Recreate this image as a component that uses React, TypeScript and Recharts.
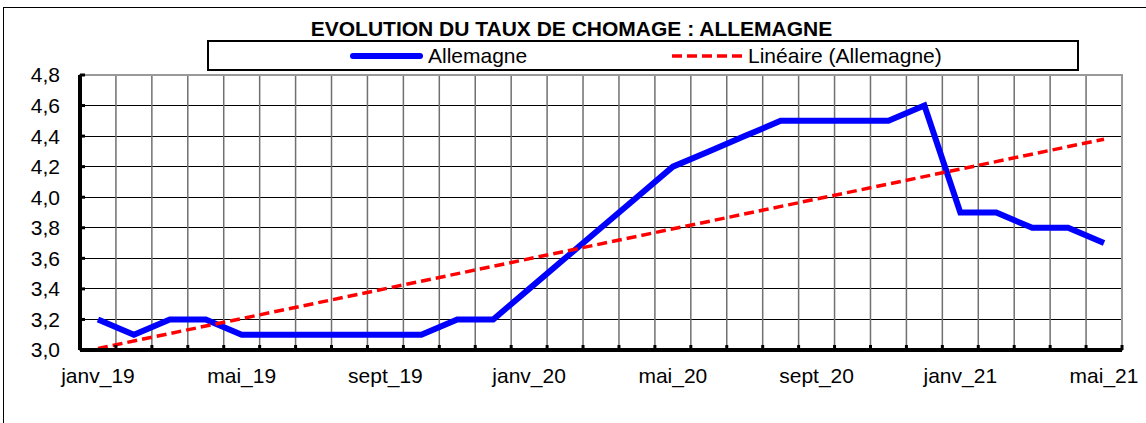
import { LineChart, Line, XAxis, YAxis, CartesianGrid, ReferenceArea } from 'recharts'

const months = [
  'janv_19', 'févr_19', 'mars_19', 'avr_19', 'mai_19', 'juin_19', 'juil_19', 'août_19', 'sept_19', 'oct_19', 'nov_19', 'déc_19',
  'janv_20', 'févr_20', 'mars_20', 'avr_20', 'mai_20', 'juin_20', 'juil_20', 'août_20', 'sept_20', 'oct_20', 'nov_20', 'déc_20',
  'janv_21', 'févr_21', 'mars_21', 'avr_21', 'mai_21',
]

const allemagne = [
  3.2, 3.1, 3.2, 3.2, 3.1, 3.1, 3.1, 3.1, 3.1, 3.1, 3.2, 3.2,
  3.4, 3.6, 3.8, 4.0, 4.2, 4.3, 4.4, 4.5, 4.5, 4.5, 4.5, 4.6,
  3.9, 3.9, 3.8, 3.8, 3.7,
]

// trend line (Linéaire) at its two ends
const trendStart = 3.01
const trendEnd = 4.38

const yTicks = [3.0, 3.2, 3.4, 3.6, 3.8, 4.0, 4.2, 4.4, 4.6, 4.8]
const labelTicks = [0, 4, 8, 12, 16, 20, 24, 28]

const FONT = '"Liberation Sans", Arial, sans-serif'

const last = months.length - 1
const data = months.map((m, i) => ({
  i,
  month: m,
  allemagne: allemagne[i],
  trend: i === 0 ? trendStart : i === last ? trendEnd : null,
}))
// category boundaries, Excel draws grid and ticks between the points
const boundaries = [...months.map((_, i) => i - 0.5), last + 0.5]

export default function App() {
  return (
    <div
      style={{
        position: 'absolute',
        left: 0,
        top: 0,
        width: 1146,
        height: 423,
        overflow: 'hidden',
        background: '#fff',
        fontFamily: FONT,
      }}
    >
      <div
        style={{
          position: 'absolute',
          left: 3,
          top: 7,
          width: 1400,
          height: 600,
          borderLeft: '1px solid #000',
          borderTop: '1px solid #000',
        }}
      />
      <div style={{ position: 'absolute', left: 0, top: 0 }}>
        <LineChart width={1146} height={423} data={data} margin={{ top: 75, right: 24, bottom: 0, left: 0 }}>
          <CartesianGrid xAxisId="g" vertical={false} stroke="#000" shapeRendering="crispEdges" />
          <CartesianGrid xAxisId="g" horizontal={false} stroke="#707070" strokeWidth={1.5} />
          <ReferenceArea
            xAxisId="g"
            x1={-0.5}
            x2={last + 0.5}
            y1={3}
            y2={4.8}
            fill="none"
            stroke="#999"
            strokeWidth={2}
          />
          <XAxis
            xAxisId="g"
            type="number"
            dataKey="i"
            domain={[-0.5, last + 0.5]}
            ticks={boundaries}
            interval={0}
            tickFormatter={() => ''}
            axisLine={{ stroke: '#000', strokeWidth: 4 }}
            tickLine={{ stroke: '#000', strokeWidth: 3 }}
            tickSize={-5}
            height={1}
          />
          <XAxis
            xAxisId="l"
            type="number"
            dataKey="i"
            domain={[-0.5, last + 0.5]}
            ticks={labelTicks}
            interval={0}
            tickFormatter={(v: number) => months[v]}
            axisLine={false}
            tickLine={false}
            tickSize={0}
            tickMargin={17}
            height={72}
            tick={{ fontSize: 21, fill: '#000', fontFamily: FONT }}
          />
          <YAxis
            type="number"
            domain={[3, 4.8]}
            ticks={yTicks}
            interval={0}
            tickFormatter={(v: number) => v.toFixed(1).replace('.', ',')}
            axisLine={{ stroke: '#000', strokeWidth: 4 }}
            tickLine={{ stroke: '#000', strokeWidth: 3 }}
            tickSize={-5}
            tickMargin={25}
            width={80}
            tick={{ fontSize: 21, fill: '#000', fontFamily: FONT }}
          />
          <Line
            xAxisId="g"
            type="linear"
            dataKey="allemagne"
            stroke="#0000FF"
            strokeWidth={6}
            dot={false}
            activeDot={false}
            isAnimationActive={false}
          />
          <Line
            xAxisId="g"
            type="linear"
            dataKey="trend"
            connectNulls
            stroke="#FF0000"
            strokeWidth={3.5}
            strokeDasharray="10 5"
            dot={false}
            activeDot={false}
            isAnimationActive={false}
          />
        </LineChart>
      </div>

      <div
        style={{
          position: 'absolute',
          left: 0,
          top: 18,
          width: 1143,
          textAlign: 'center',
          fontSize: 21,
          lineHeight: '21px',
          fontWeight: 'bold',
        }}
      >
        EVOLUTION DU TAUX DE CHOMAGE : ALLEMAGNE
      </div>

      <div
        style={{
          position: 'absolute',
          left: 207,
          top: 40,
          width: 872,
          height: 31,
          boxSizing: 'border-box',
          border: '2px solid #000',
          background: '#fff',
        }}
      />
      <div
        style={{
          position: 'absolute',
          left: 350,
          top: 53,
          width: 73,
          height: 6,
          borderRadius: 3,
          background: '#0000FF',
        }}
      />
      <div style={{ position: 'absolute', left: 428, top: 45, fontSize: 21, lineHeight: '21px' }}>Allemagne</div>
      <svg style={{ position: 'absolute', left: 670, top: 50 }} width={75} height={12}>
        <line x1={2} y1={6} x2={72} y2={6} stroke="#FF0000" strokeWidth={3.5} strokeDasharray="10 5" />
      </svg>
      <div style={{ position: 'absolute', left: 748, top: 45, fontSize: 21, lineHeight: '21px' }}>
        Linéaire (Allemagne)
      </div>
    </div>
  )
}
